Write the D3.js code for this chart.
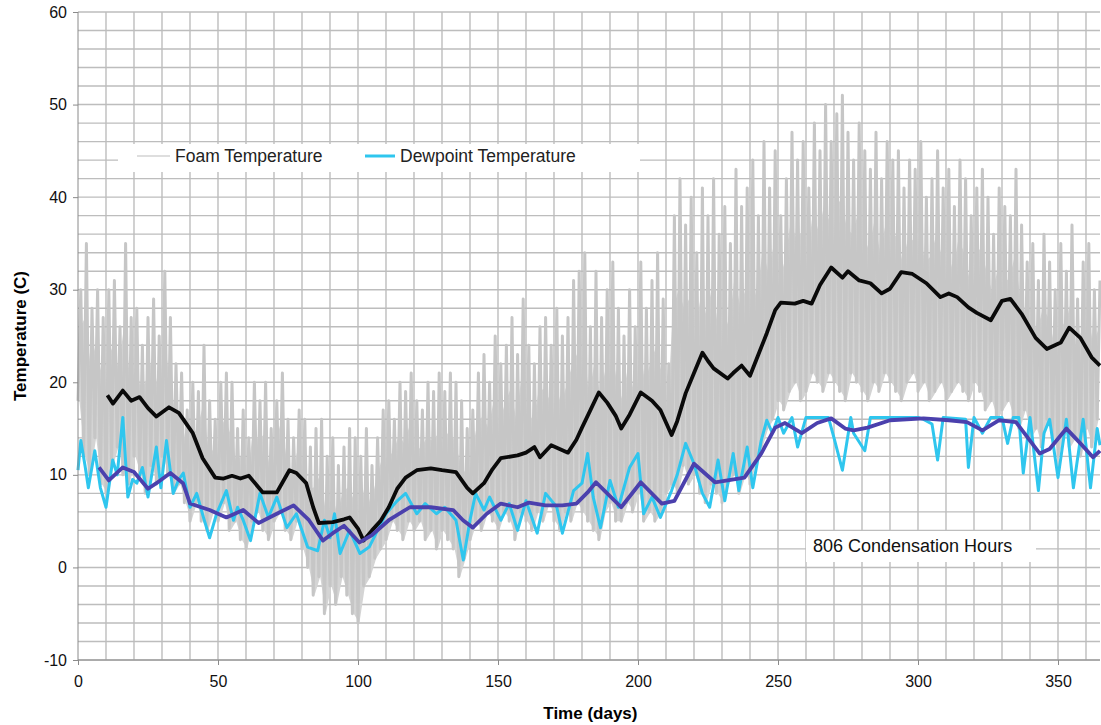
<!DOCTYPE html>
<html>
<head>
<meta charset="utf-8">
<script src="https://cdn.jsdelivr.net/npm/d3@7"></script>
<style>
  body { margin: 0; background: #fff; }
  svg { display: block; font-family: "Liberation Sans", Arial, sans-serif; }
  .grid line { stroke: #bdbdbd; stroke-width: 1.4; }
  .axis path, .axis line { stroke: #8a8a8a; }
  .axis text { font-size: 16px; fill: #111; }
</style>
</head>
<body>
<div id="chart"></div>
<script>
// foam temperature envelope, one low/high pair every 2 days starting day 0
const foamStart = 0;
const foamStep = 2;
const foamHigh = [
  30, 35, 28, 30, 27, 30, 31, 26, 35, 27,
  28, 24, 27, 29, 25, 32, 27, 22, 21, 17,
  20, 19, 24, 18, 16, 20, 21, 20, 15, 17,
  14, 20, 18, 20, 15, 18, 21, 16, 14, 17,
  16, 13, 15, 16, 12, 14, 11, 13, 15, 14,
  12, 15, 11, 14, 17, 18, 16, 20, 19, 21,
  18, 17, 20, 19, 21, 19, 21, 20, 18, 15,
  17, 21, 23, 20, 25, 22, 24, 27, 23, 29,
  24, 22, 26, 27, 24, 28, 25, 27, 31, 32,
  34, 26, 32, 27, 30, 33, 28, 25, 30, 26,
  33, 28, 31, 34, 29, 22, 38, 42, 37, 40,
  34, 41, 38, 42, 36, 39, 35, 43, 39, 41,
  44, 38, 46, 41, 45, 38, 42, 47, 44, 46,
  41, 48, 45, 50, 46, 49, 51, 47, 44, 48,
  45, 43, 47, 42, 46, 44, 45, 41, 44, 43,
  46, 40, 42, 45, 41, 43, 39, 44, 42, 38,
  41, 43, 40, 36, 41, 39, 38, 43, 37, 33,
  35, 31, 36, 33, 30, 35, 32, 37, 29, 33,
  35, 30, 31
];
const foamLow = [
  18, 12, 10, 14, 9, 8, 11, 13, 10, 9,
  12, 10, 8, 11, 9, 12, 10, 8, 9, 7,
  5, 7, 5, 4, 6, 5, 7, 4, 5, 3,
  2, 5, 6, 4, 3, 5, 6, 4, 3, 5,
  2, 0, -3, -1, -5, -2, -4, -1, -3, -5,
  -6, -2, -1, 1, 2, 3, 5, 4, 3, 5,
  4, 5, 3, 4, 2, 4, 3, 2, -1, 1,
  3, 5, 4, 6, 5, 4, 6, 5, 3, 6,
  5, 4, 6, 5, 7, 5, 4, 6, 5, 7,
  6, 5, 4, 3, 6, 7, 5, 5, 7, 6,
  8, 5, 6, 5, 6, 8, 9, 8, 11, 9,
  10, 8, 7, 9, 8, 7, 9, 10, 8, 10,
  9, 12, 13, 15, 16, 18, 17, 19, 20, 18,
  19, 21, 20, 19, 21, 20, 19, 18, 21, 20,
  19, 18, 20, 19, 21, 20, 19, 18, 20, 21,
  19, 20, 18, 19, 20, 18, 19, 20, 19, 18,
  20, 19, 17, 18, 16, 17, 18, 16, 15, 17,
  14, 15, 13, 16, 14, 12, 15, 13, 14, 12,
  15, 13, 16
];

// dewpoint temperature
const dewDays = [0, 1, 2.5, 3.7, 6, 8, 10, 12.4, 14, 16, 17.8, 19.5, 21, 23, 25, 28, 29.6, 31.6, 34, 36, 37.6,
  40, 42.4, 44.8, 47, 49.5, 53, 55.5, 57, 59, 61.6, 65, 68, 71, 74.6, 78, 80, 82, 85.6, 88, 90, 91.6, 93.6,
  97, 100.7, 104, 107, 110, 114, 117, 121, 124, 128, 131, 135, 137.6, 140, 142, 145, 147, 151, 154, 157,
  160, 164, 167, 171, 173, 177, 180, 182, 184, 186.6, 190, 193, 197, 200, 202, 205, 208, 212, 214, 217,
  220, 223, 225.6, 228.6, 231, 234, 236, 239, 241, 244, 246, 248, 250, 252, 255, 257, 260, 264, 268, 270,
  273, 276, 277, 281, 283, 286, 300, 302, 305, 307, 309, 317, 318, 320, 323, 326, 330, 332, 334, 336,
  337.6, 340, 343, 345, 347, 350, 353, 355.5, 359, 361.6, 364, 365];
const dewpoint = [10.5, 13.7, 11, 8.6, 12.6, 8.6, 6.5, 11.6, 10, 16.2, 7.6, 9.5, 9.1, 10.8, 7.6, 13.0, 8.6, 13.7, 8.0, 9.5, 10.2,
  6.5, 8.0, 5.4, 3.2, 5.8, 8.3, 5.1, 6.5, 5.1, 2.9, 8.0, 5.4, 7.6, 4.3, 5.8, 4.0, 2.2, 1.8, 5.1, 3.2, 5.8, 1.5,
  4.0, 1.5, 2.2, 4.0, 5.8, 7.2, 8.0, 5.8, 6.9, 5.8, 6.5, 5.1, 0.8, 5.1, 8.0, 6.2, 7.6, 5.1, 6.9, 4.0,
  7.2, 3.7, 8.0, 6.5, 3.7, 8.3, 9.1, 12.3, 7.6, 4.3, 9.4, 6.5, 10.8, 12.3, 5.8, 7.6, 5.4, 8.3, 10.0, 13.4,
  11.2, 8.0, 6.5, 11.6, 7.2, 12.3, 8.3, 13.0, 8.6, 13.7, 15.9, 14.5, 16.2, 14.5, 16.2, 13.0, 16.2, 16.2, 16.2, 14.0,
  10.5, 16.2, 14.5, 12.6, 16.2, 16.2, 16.2, 16.0, 15.5, 11.6, 16.2, 16.0, 10.8, 16.2, 14.5, 16.2, 16.2, 13.4, 16.2, 16.2,
  10.2, 16.2, 8.3, 14.5, 16.0, 9.7, 16.0, 8.6, 16.0, 8.6, 15.0, 13.2];

// running averages
const foamAvgDays = [10.5, 12.5, 16, 19, 22, 25, 28, 32.5, 36, 41, 44.5, 49, 52, 55, 58, 61, 66, 71, 75.5, 78,
  81.5, 84, 86, 91, 95, 97, 100, 102, 105, 108, 111, 114, 117, 121, 126, 130, 135, 139, 141, 145, 148, 151,
  157, 160, 163, 165, 169, 172, 175, 178, 180, 183, 186, 189, 192, 194, 197, 201, 205, 208, 212, 214, 217,
  220, 223, 225, 227, 232, 234, 237, 240, 243, 246, 249, 251, 256, 259, 262, 265, 269, 273, 275, 279, 283,
  287, 290, 294, 298, 303, 308, 311, 314, 318, 321, 326, 330, 333, 337, 342, 346, 351, 354, 358, 362, 365];
const foamAvg = [18.6, 17.7, 19.1, 18.0, 18.4, 17.2, 16.3, 17.3, 16.7, 14.5, 11.8, 9.7, 9.6, 9.9, 9.6, 9.9, 8.1, 8.1, 10.5, 10.2,
  9.1, 6.5, 4.8, 4.9, 5.2, 5.4, 4.2, 2.9, 4.0, 5.0, 6.5, 8.5, 9.7, 10.5, 10.7, 10.5, 10.3, 8.6, 8.0, 9.1, 10.6, 11.8,
  12.1, 12.4, 13.0, 11.9, 13.2, 12.8, 12.4, 13.8, 15.1, 17.0, 18.9, 17.8, 16.4, 15.0, 16.5, 18.9, 18.0, 17.0, 14.3, 15.8, 18.8,
  21.0, 23.2, 22.3, 21.5, 20.4, 21.0, 21.8, 20.7, 23.0, 25.3, 27.8, 28.6, 28.5, 28.8, 28.5, 30.5, 32.4, 31.3, 32.0, 31.0, 30.7,
  29.6, 30.1, 31.9, 31.7, 30.7, 29.2, 29.6, 29.2, 28.1, 27.5, 26.7, 28.8, 29.0, 27.4, 24.8, 23.6, 24.3, 25.9, 24.8, 22.7, 21.8];

const dewAvgDays = [7.5, 11, 16, 20, 25, 28, 33, 37.5, 40, 47, 53, 59, 64.5, 71, 77, 82.5, 87.5, 91, 95, 100.5,
  105, 111, 118.5, 126, 134, 137.5, 141, 146, 151, 157, 161, 167, 173, 178, 182, 185, 188, 194, 201, 208.5,
  213, 220, 227.5, 232, 238, 244, 249, 252.5, 258.5, 264, 269, 274, 277, 282, 290, 302, 311, 317.5, 323,
  329, 335, 343.5, 347, 353, 358, 362.5, 365];
const dewAvg = [10.8, 9.4, 10.8, 10.3, 8.5, 9.1, 10.2, 9.1, 6.9, 6.2, 5.4, 6.2, 4.8, 5.8, 6.7, 5.1, 2.9, 3.7, 4.5, 2.7,
  3.5, 5.1, 6.5, 6.5, 6.2, 5.1, 4.3, 5.8, 6.9, 6.5, 7.0, 6.7, 6.7, 6.9, 8.1, 9.2, 8.3, 6.5, 9.2, 6.9,
  7.2, 11.2, 9.2, 9.4, 9.7, 12.3, 15.1, 15.6, 14.5, 15.6, 16.1, 15.0, 14.8, 15.1, 15.9, 16.1, 15.9, 15.7, 14.8,
  15.9, 15.7, 12.3, 12.8, 15.0, 13.4, 11.9, 12.6];

const yTicks = [-10, 0, 10, 20, 30, 40, 50, 60];
const xTicks = [0, 50, 100, 150, 200, 250, 300, 350];

const W = 1101, H = 725;
const margin = {top: 12, right: 1, bottom: 65, left: 78};
const width = W - margin.left - margin.right;
const height = H - margin.top - margin.bottom;

const svg = d3.select("#chart").append("svg")
    .attr("width", W)
    .attr("height", H);

const g = svg.append("g")
    .attr("transform", "translate(" + margin.left + "," + margin.top + ")");

const x = d3.scaleLinear().domain([0, 365]).range([0, width]);
const y = d3.scaleLinear().domain([-10, 60]).range([height, 0]);

// grid
const grid = g.append("g").attr("class", "grid");
grid.selectAll("line.h")
    .data(d3.range(-10, 61, 2))
    .enter().append("line")
    .attr("class", "h")
    .attr("x1", 0).attr("x2", width)
    .attr("y1", d => y(d)).attr("y2", d => y(d));
grid.selectAll("line.v")
    .data(d3.range(10, 366, 10))
    .enter().append("line")
    .attr("class", "v")
    .attr("y1", 0).attr("y2", height)
    .attr("x1", d => x(d)).attr("x2", d => x(d));

// foam temperature as a daily swing
const foamPts = [];
foamHigh.forEach((h, i) => {
    const d = foamStart + i * foamStep;
    foamPts.push([d, foamLow[i]]);
    if (d + 1 <= 365) foamPts.push([d + 1, h]);
});

const line = d3.line()
    .x(d => x(d[0]))
    .y(d => y(d[1]));

// body of the swing band, lighter, under the swing line
const band = d3.area()
    .x((d, i) => x(foamStart + i * foamStep + 0.5))
    .y0((d, i) => y(foamLow[i]))
    .y1((d, i) => y((foamLow[i] + d) / 2 + (d - foamLow[i]) * 0.15));

g.append("path")
    .datum(foamHigh)
    .attr("fill", "#d4d4d4")
    .attr("d", band);

g.append("path")
    .datum(foamPts)
    .attr("fill", "none")
    .attr("stroke", "#c6c6c6")
    .attr("stroke-width", 3)
    .attr("stroke-linejoin", "round")
    .attr("d", line);

g.append("path")
    .datum(dewDays.map((d, i) => [d, dewpoint[i]]))
    .attr("fill", "none")
    .attr("stroke", "#2fc6ee")
    .attr("stroke-width", 3)
    .attr("stroke-linejoin", "round")
    .attr("d", line);

g.append("path")
    .datum(foamAvgDays.map((d, i) => [d, foamAvg[i]]))
    .attr("fill", "none")
    .attr("stroke", "#0a0a0a")
    .attr("stroke-width", 3.8)
    .attr("stroke-linejoin", "round")
    .attr("d", line);

g.append("path")
    .datum(dewAvgDays.map((d, i) => [d, dewAvg[i]]))
    .attr("fill", "none")
    .attr("stroke", "#4b40ad")
    .attr("stroke-width", 3.8)
    .attr("stroke-linejoin", "round")
    .attr("d", line);

// axes
const yAxis = d3.axisLeft(y).tickValues(yTicks).tickSize(5).tickPadding(6)
    .tickFormat(d => String(d));
const xAxis = d3.axisBottom(x).tickValues(xTicks).tickSize(5).tickPadding(11);

g.append("g")
    .attr("class", "axis")
    .call(yAxis)
    .call(a => a.select(".domain").attr("d", "M0,0V" + height));

g.append("g")
    .attr("class", "axis")
    .attr("transform", "translate(0," + height + ")")
    .call(xAxis)
    .call(a => a.select(".domain").attr("d", "M0,0H" + width));

svg.append("text")
    .attr("x", margin.left + x(183))
    .attr("y", 719)
    .attr("text-anchor", "middle")
    .style("font-size", "17px")
    .style("font-weight", "bold")
    .text("Time (days)");

svg.append("text")
    .attr("transform", "translate(26," + (margin.top + y(25)) + ") rotate(-90)")
    .attr("text-anchor", "middle")
    .style("font-size", "17px")
    .style("font-weight", "bold")
    .text("Temperature (C)");

// legend
const legend = svg.append("g");
legend.append("rect")
    .attr("x", 118).attr("y", 144)
    .attr("width", 522).attr("height", 28)
    .attr("fill", "#fff");
legend.append("line")
    .attr("x1", 137).attr("x2", 170).attr("y1", 156).attr("y2", 156)
    .attr("stroke", "#bdbdbd").attr("stroke-width", 1.2);
legend.append("text")
    .attr("x", 175).attr("y", 162)
    .style("font-size", "17.5px").attr("fill", "#222")
    .text("Foam Temperature");
legend.append("line")
    .attr("x1", 365).attr("x2", 395).attr("y1", 156).attr("y2", 156)
    .attr("stroke", "#2fc6ee").attr("stroke-width", 3);
legend.append("text")
    .attr("x", 400).attr("y", 162)
    .style("font-size", "17.5px").attr("fill", "#222")
    .text("Dewpoint Temperature");

// annotation
svg.append("rect")
    .attr("x", 806).attr("y", 531)
    .attr("width", 230).attr("height", 31)
    .attr("fill", "#fff");
svg.append("text")
    .attr("x", 813).attr("y", 552)
    .style("font-size", "18px").attr("fill", "#111")
    .text("806 Condensation Hours");
</script>
</body>
</html>
